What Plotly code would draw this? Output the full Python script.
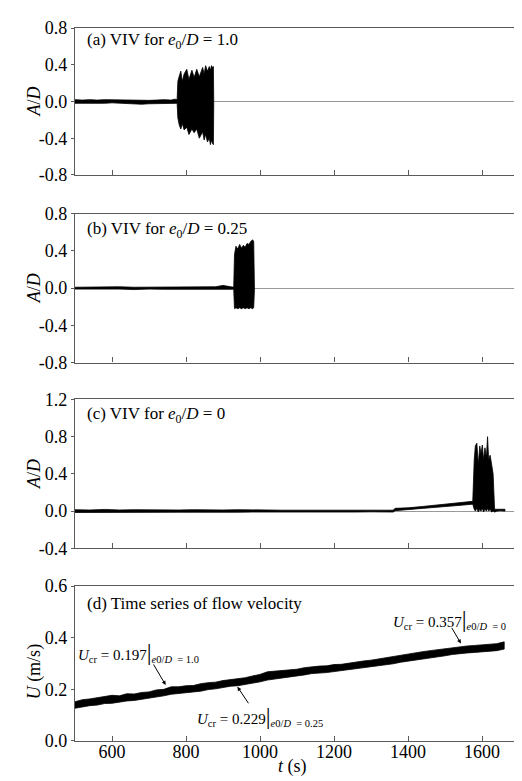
import plotly.graph_objects as go

# ---------------- data ----------------
X_TICKS = [600, 800, 1000, 1200, 1400, 1600]
X_TICK_TEXT = ["600", "800", "1000", "1200", "1400", "1600"]
Y_TICKS_AB = [-0.8, -0.4, 0.0, 0.4, 0.8]
Y_TEXT_AB = ["-0.8", "-0.4", "0.0", "0.4", "0.8"]
Y_TICKS_C = [-0.4, 0.0, 0.4, 0.8, 1.2]
Y_TEXT_C = ["-0.4", "0.0", "0.4", "0.8", "1.2"]
Y_TICKS_D = [0.0, 0.2, 0.4, 0.6]
Y_TEXT_D = ["0.0", "0.2", "0.4", "0.6"]

# (a) e0/D = 1.0 : envelope of A/D
a_t = [500, 520, 540, 560, 580, 600, 620, 640, 660, 680, 700, 720, 740, 760, 770, 776,
       778, 782, 786, 790, 795, 802, 808, 816, 822, 829, 836, 845, 849, 853, 858, 863, 866, 869, 872, 874, 875]
a_up = [0.02, 0.015, 0.02, 0.015, 0.02, 0.018, 0.015, 0.02, 0.012, 0.015, 0.012, 0.015, 0.02, 0.015, 0.025, 0.02,
        0.22, 0.28, 0.33, 0.22, 0.30, 0.35, 0.24, 0.34, 0.26, 0.35, 0.27, 0.37, 0.30, 0.39, 0.33, 0.38, 0.34, 0.39, 0.37, 0.38, 0.02]
a_lo = [-0.02, -0.02, -0.015, -0.02, -0.02, -0.015, -0.02, -0.02, -0.025, -0.03, -0.025, -0.02, -0.02, -0.02, -0.02, -0.02,
        -0.18, -0.26, -0.30, -0.24, -0.31, -0.28, -0.36, -0.30, -0.34, -0.30, -0.40, -0.33, -0.42, -0.36, -0.44, -0.40, -0.47, -0.42, -0.46, -0.47, -0.02]

# (b) e0/D = 0.25
b_t = [500, 540, 580, 620, 660, 700, 740, 780, 820, 860, 880, 900, 915, 925, 929,
       931, 935, 940, 945, 950, 955, 960, 965, 970, 975, 980, 983, 985]
b_up = [0.01, 0.012, 0.01, 0.015, 0.01, 0.012, 0.01, 0.015, 0.012, 0.02, 0.015, 0.03, 0.015, 0.012, 0.012,
        0.36, 0.45, 0.42, 0.47, 0.43, 0.46, 0.44, 0.48, 0.47, 0.50, 0.52, 0.50, 0.01]
b_lo = [-0.01, -0.01, -0.012, -0.01, -0.015, -0.01, -0.012, -0.015, -0.012, -0.02, -0.015, -0.02, -0.015, -0.012, -0.012,
        -0.22, -0.21, -0.22, -0.21, -0.22, -0.21, -0.22, -0.21, -0.22, -0.21, -0.22, -0.21, -0.01]

# (c) e0/D = 0
c_t = [500, 540, 580, 620, 660, 700, 740, 780, 820, 860, 900, 940, 980, 1020, 1060, 1100, 1140, 1180, 1220, 1260, 1300, 1340, 1360,
       1365, 1400, 1440, 1480, 1520, 1550, 1575,
       1579, 1582, 1586, 1590, 1594, 1597, 1601, 1604, 1608, 1612, 1615, 1618, 1622, 1626, 1630, 1634,
       1640, 1650, 1662]
c_up = [0.015, 0.012, 0.018, 0.012, 0.015, 0.012, 0.015, 0.012, 0.015, 0.012, 0.012, 0.015, 0.01, 0.012, 0.01, 0.01, 0.01, 0.008, 0.01, 0.008, 0.01, 0.008, 0.01,
        0.03, 0.035, 0.05, 0.065, 0.08, 0.09, 0.105,
        0.55, 0.70, 0.73, 0.50, 0.70, 0.62, 0.71, 0.55, 0.68, 0.58, 0.80, 0.55, 0.60, 0.48, 0.40, 0.02,
        0.02, 0.025, 0.02]
c_lo = [-0.015, -0.012, -0.015, -0.012, -0.012, -0.015, -0.012, -0.012, -0.012, -0.012, -0.01, -0.012, -0.01, -0.01, -0.008, -0.01, -0.01, -0.008, -0.008, -0.01, -0.008, -0.008, -0.01,
        0.005, 0.01, 0.025, 0.04, 0.055, 0.065, 0.075,
        0.02, 0.0, 0.03, -0.01, 0.02, 0.0, 0.03, -0.01, 0.02, 0.0, 0.03, 0.0, 0.02, -0.01, 0.0, -0.01,
        0.0, 0.005, 0.0]

# (d) flow velocity U (m/s) band
d_t = [500, 520, 540, 560, 580, 600, 620, 640, 660, 680, 700, 720, 740, 760, 780, 800, 820, 840, 860, 880,
       900, 920, 940, 960, 980, 1000, 1020, 1040, 1060, 1080, 1100, 1120, 1140, 1160, 1180, 1200, 1220, 1240,
       1260, 1280, 1300, 1320, 1340, 1360, 1380, 1400, 1420, 1440, 1460, 1480, 1500, 1520, 1540, 1560, 1580,
       1600, 1620, 1640, 1660]
d_up = [0.152, 0.160, 0.163, 0.168, 0.171, 0.177, 0.175, 0.183, 0.182, 0.188, 0.190, 0.198, 0.200, 0.210, 0.210,
        0.214, 0.215, 0.222, 0.226, 0.228, 0.234, 0.238, 0.242, 0.245, 0.252, 0.258, 0.268, 0.270, 0.272, 0.276,
        0.278, 0.284, 0.288, 0.290, 0.291, 0.296, 0.297, 0.302, 0.305, 0.310, 0.313, 0.318, 0.321, 0.326, 0.333,
        0.336, 0.341, 0.346, 0.350, 0.354, 0.358, 0.362, 0.366, 0.368, 0.370, 0.372, 0.374, 0.377, 0.384]
d_lo = [0.127, 0.133, 0.137, 0.139, 0.145, 0.146, 0.150, 0.155, 0.157, 0.160, 0.165, 0.170, 0.175, 0.181, 0.185,
        0.187, 0.190, 0.193, 0.199, 0.202, 0.206, 0.212, 0.214, 0.219, 0.224, 0.229, 0.236, 0.242, 0.245, 0.249,
        0.252, 0.256, 0.261, 0.263, 0.265, 0.268, 0.271, 0.275, 0.279, 0.283, 0.287, 0.291, 0.295, 0.299, 0.305,
        0.309, 0.313, 0.318, 0.322, 0.326, 0.330, 0.335, 0.339, 0.341, 0.343, 0.345, 0.347, 0.350, 0.356]

# critical velocities (t, U) and labels
ucr_t = [745, 939, 1543]
ucr_u = [0.217, 0.21, 0.378]
ucr_val = ["0.197", "0.229", "0.357"]
ucr_cond = ["1.0", "0.25", "0"]

PANEL_LABELS = ["(a) VIV for <i>e</i><sub>0</sub>/<i>D</i> = 1.0",
                "(b) VIV for <i>e</i><sub>0</sub>/<i>D</i> = 0.25",
                "(c) VIV for <i>e</i><sub>0</sub>/<i>D</i> = 0",
                "(d) Time series of flow velocity"]

# ---------------- figure ----------------
FONT = "Liberation Serif"
AX = "#5a5a5a"
fig = go.Figure()

series = [(a_t, a_up, a_lo), (b_t, b_up, b_lo), (c_t, c_up, c_lo), (d_t, d_up, d_lo)]
for i, (t, up, lo) in enumerate(series):
    sfx = "" if i == 0 else str(i + 1)
    fig.add_trace(go.Scatter(
        x=list(t) + list(t)[::-1], y=list(up) + list(lo)[::-1],
        mode="lines", fill="toself", fillcolor="black",
        line=dict(color="black", width=0.8),
        xaxis="x" + sfx, yaxis="y" + sfx, hoverinfo="skip", showlegend=False))

domains = [[0.7939, 1.0], [0.5306, 0.7396], [0.2702, 0.4791], [0.0, 0.2173]]
yranges = [[-0.8, 0.8], [-0.8, 0.8], [-0.4, 1.2], [0.0, 0.6]]
yticks = [(Y_TICKS_AB, Y_TEXT_AB), (Y_TICKS_AB, Y_TEXT_AB), (Y_TICKS_C, Y_TEXT_C), (Y_TICKS_D, Y_TEXT_D)]

layout = dict(
    width=522, height=781,
    margin=dict(l=67, r=10, t=15, b=48),
    paper_bgcolor="white", plot_bgcolor="white",
    font=dict(family=FONT, size=17, color="black"),
    showlegend=False,
)
for i in range(4):
    sfx = "" if i == 0 else str(i + 1)
    layout["xaxis" + sfx] = dict(
        domain=[0, 1], anchor="y" + sfx, range=[500, 1700],
        tickvals=X_TICKS, ticktext=X_TICK_TEXT, showticklabels=(i == 3),
        ticks="inside", ticklen=5, tickwidth=1.2, tickcolor=AX,
        showline=True, linecolor=AX, linewidth=1.4, mirror=True,
        showgrid=False, zeroline=False, tickfont=dict(size=18),
        ticklabelstandoff=-6)
    layout["yaxis" + sfx] = dict(
        domain=domains[i], anchor="x" + sfx, range=yranges[i],
        tickvals=yticks[i][0], ticktext=yticks[i][1],
        ticks="outside", ticklen=3, tickwidth=1.2, tickcolor=AX,
        showline=True, linecolor=AX, linewidth=1.4, mirror=True,
        showgrid=False, zeroline=(i < 3), zerolinecolor="#999999", zerolinewidth=1,
        tickfont=dict(size=18))
fig.update_layout(**layout)

ann = []
label_y = [0.91, 0.893, 0.893, 0.885]
for i in range(4):
    sfx = "" if i == 0 else str(i + 1)
    ann.append(dict(text=PANEL_LABELS[i], xref="x" + sfx + " domain", yref="y" + sfx + " domain",
                    x=0.022, y=label_y[i], xanchor="left", yanchor="middle", showarrow=False,
                    font=dict(size=17)))
    ytitle = "<i>A</i>/<i>D</i>" if i < 3 else "<i>U</i> (m/s)"
    ann.append(dict(text=ytitle, xref="paper", yref="y" + sfx + " domain",
                    x=(26 - 67) / 445, y=0.5 if i < 3 else 0.45, xanchor="center", yanchor="middle",
                    textangle=-90, showarrow=False, font=dict(size=18)))
ann.append(dict(text="<i>t</i> (s)", xref="paper", yref="paper", x=0.49, y=-0.036,
                xanchor="center", yanchor="middle", showarrow=False, font=dict(size=18)))

# U_cr arrows (head at data point) and labels
arrow_off = [(-13, -22), (12, 18), (-10, -17)]
for k in range(3):
    ann.append(dict(x=ucr_t[k], y=ucr_u[k], xref="x4", yref="y4", text="", showarrow=True,
                    arrowhead=2, arrowsize=0.8, arrowwidth=1, arrowcolor="black",
                    ax=arrow_off[k][0], ay=arrow_off[k][1]))
label_pos = [(502, 0.345), (824, 0.095), (1354, 0.472)]
for k in range(3):
    txt = ("<i>U</i><sub>cr</sub> = " + ucr_val[k] +
           "<span style='font-size:24px'>|</span><sub><i>e</i>0/<i>D</i>  = " + ucr_cond[k] + "</sub>")
    ann.append(dict(x=label_pos[k][0], y=label_pos[k][1], xref="x4", yref="y4", text=txt,
                    showarrow=False, xanchor="left", yanchor="middle", font=dict(size=15)))

fig.update_layout(annotations=ann)
fig.write_html("out.html")
